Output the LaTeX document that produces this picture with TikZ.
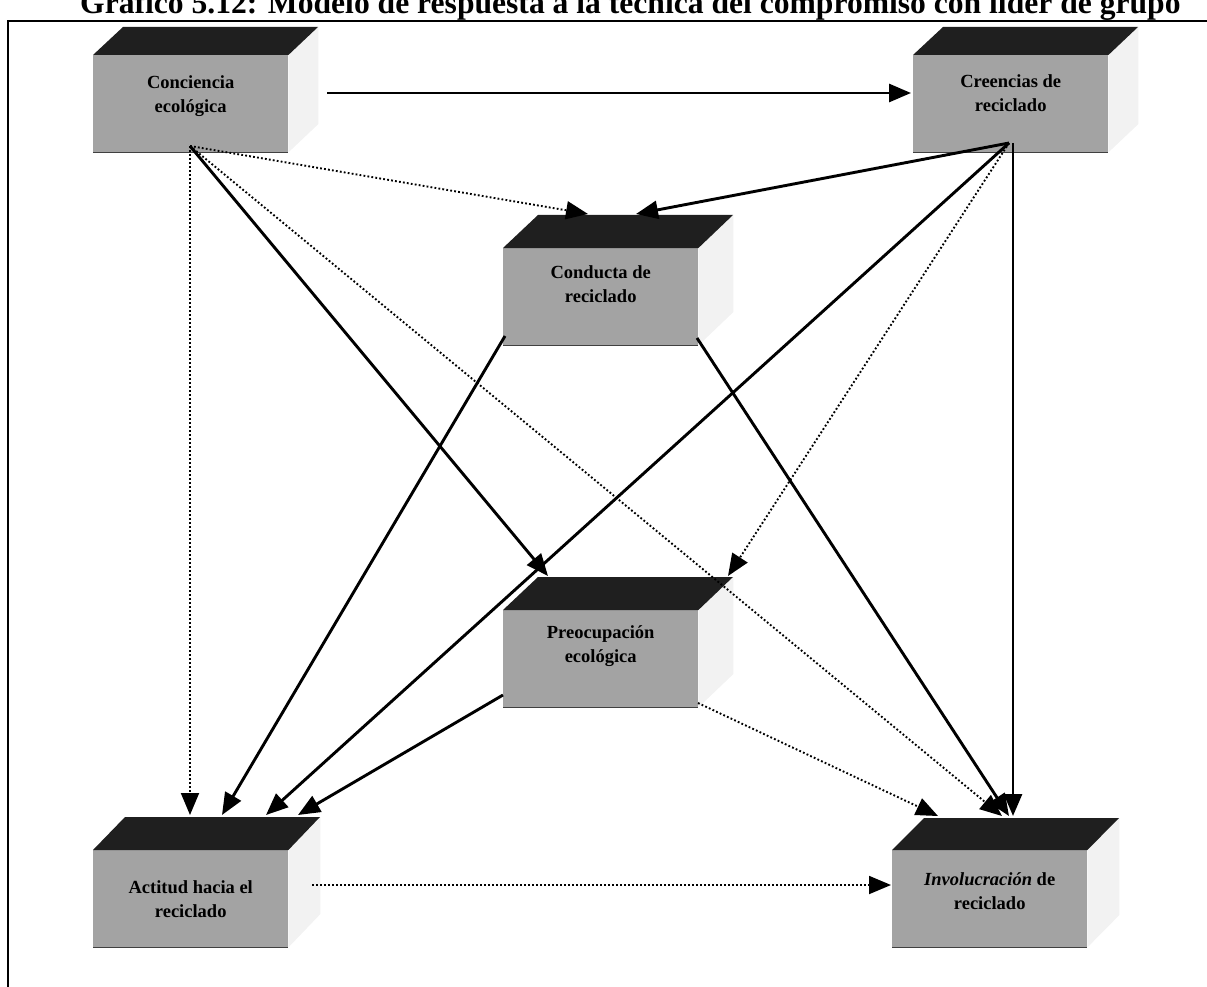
\documentclass[tikz,border=0pt]{standalone}
\usepackage{fontspec}
\setmainfont{Liberation Serif}
\usetikzlibrary{arrows.meta}

\tikzset{
  frontface/.style={fill=black!36, draw=none, minimum width=195pt, minimum height=97pt, inner sep=0pt},
  facetop/.style={fill=black!88},
  faceside/.style={fill=black!5},
  bottomedge/.style={draw=black!75, line width=1.2pt},
  boxtext/.style={font=\bfseries\fontsize{18.5}{24}\selectfont, align=center, inner sep=0pt},
  frame/.style={line width=1.3pt},
  tip/.style={-{Triangle[length=22pt,width=18pt]}},
  solidarrow/.style={tip, line width=2.9pt},
  dottedarrow/.style={tip, line width=1.9pt, dash pattern=on 1.8pt off 2.2pt},
}

% #1 name, #2 front top-left corner, #3/#4 depth of the top face, #5 label raise, #6 label
\newcommand\cubebox[6]{%
  \node[frontface, anchor=north west] (#1) at (#2) {};
  \fill[faceside] (#1.north east) -- ++(#3,-#4) -- ++(0,97) -- (#1.south east) -- cycle;
  \fill[facetop] (#1.north west) -- ++(#3,-#4) -- ++(195,0) -- (#1.north east) -- cycle;
  \draw[bottomedge] (#1.south west) -- (#1.south east);
  \node[boxtext] (#1-label) at ([yshift=#5pt]#1.center) {#6};
}

\begin{document}
\begin{tikzpicture}[x=1pt, y=-1pt]
  \useasboundingbox (0,0) rectangle (1207,987);

  % heading (its upper part lies above the page) and frame
  \node[anchor=base west, inner sep=0pt, font=\bfseries\fontsize{31.6}{34}\selectfont] (title) at (80,14)
    {Gráfico 5.12: Modelo de respuesta a la técnica del compromiso con líder de grupo};
  \draw[frame] (8,987) -- (8,21) -- (1207,21);

  % the six blocks
  \cubebox{A}{93,55}{30}{28}{8}{Conciencia\\ecológica}
  \cubebox{B}{913,55}{30}{28}{11}{Creencias de\\reciclado}
  \cubebox{C}{503,248}{35}{33}{13}{Conducta de\\reciclado}
  \cubebox{D}{503,610}{35}{33}{13}{Preocupación\\ecológica}
  \cubebox{E}{93,850}{32}{33}{0}{Actitud hacia el\\reciclado}
  \cubebox{F}{892,850}{32}{32}{8}{\textit{Involucración} de\\reciclado}

  % connector end points
  \coordinate (A-out) at (190,146);
  \coordinate (A-r)   at (327,93);
  \coordinate (B-l)   at (911,93);
  \coordinate (B-out) at (1009,143);
  \coordinate (B-dn)  at (1013,143);
  \coordinate (C-ina) at (588,214);
  \coordinate (C-inb) at (636,214);
  \coordinate (C-bl)  at (505,336);
  \coordinate (C-br)  at (697,338);
  \coordinate (D-ina) at (548,576);
  \coordinate (D-inb) at (728,576);
  \coordinate (D-bl)  at (503,695);
  \coordinate (D-br)  at (698,703);
  \coordinate (E-ina) at (190,815);
  \coordinate (E-inb) at (222,815);
  \coordinate (E-inc) at (266,815);
  \coordinate (E-ind) at (298,815);
  \coordinate (E-r)   at (312,885);
  \coordinate (F-ina) at (938,816);
  \coordinate (F-inb) at (1002,816);
  \coordinate (F-inc) at (1009,816);
  \coordinate (F-ind) at (1013,816);
  \coordinate (F-l)   at (891,885);

  % relations
  \draw[solidarrow]  (A-r) -- (B-l);
  \draw[dottedarrow] (A-out) -- (C-ina);
  \draw[solidarrow]  (A-out) -- (D-ina);
  \draw[dottedarrow] (A-out) -- (E-ina);
  \draw[dottedarrow] (A-out) -- (F-inb);
  \draw[solidarrow]  (B-out) -- (C-inb);
  \draw[dottedarrow] (B-out) -- (D-inb);
  \draw[solidarrow]  (B-out) -- (E-inc);
  \draw[solidarrow]  (B-dn) -- (F-ind);
  \draw[solidarrow]  (C-bl) -- (E-inb);
  \draw[solidarrow]  (C-br) -- (F-inc);
  \draw[solidarrow]  (D-bl) -- (E-ind);
  \draw[dottedarrow] (D-br) -- (F-ina);
  \draw[dottedarrow] (E-r) -- (F-l);
\end{tikzpicture}
\end{document}
